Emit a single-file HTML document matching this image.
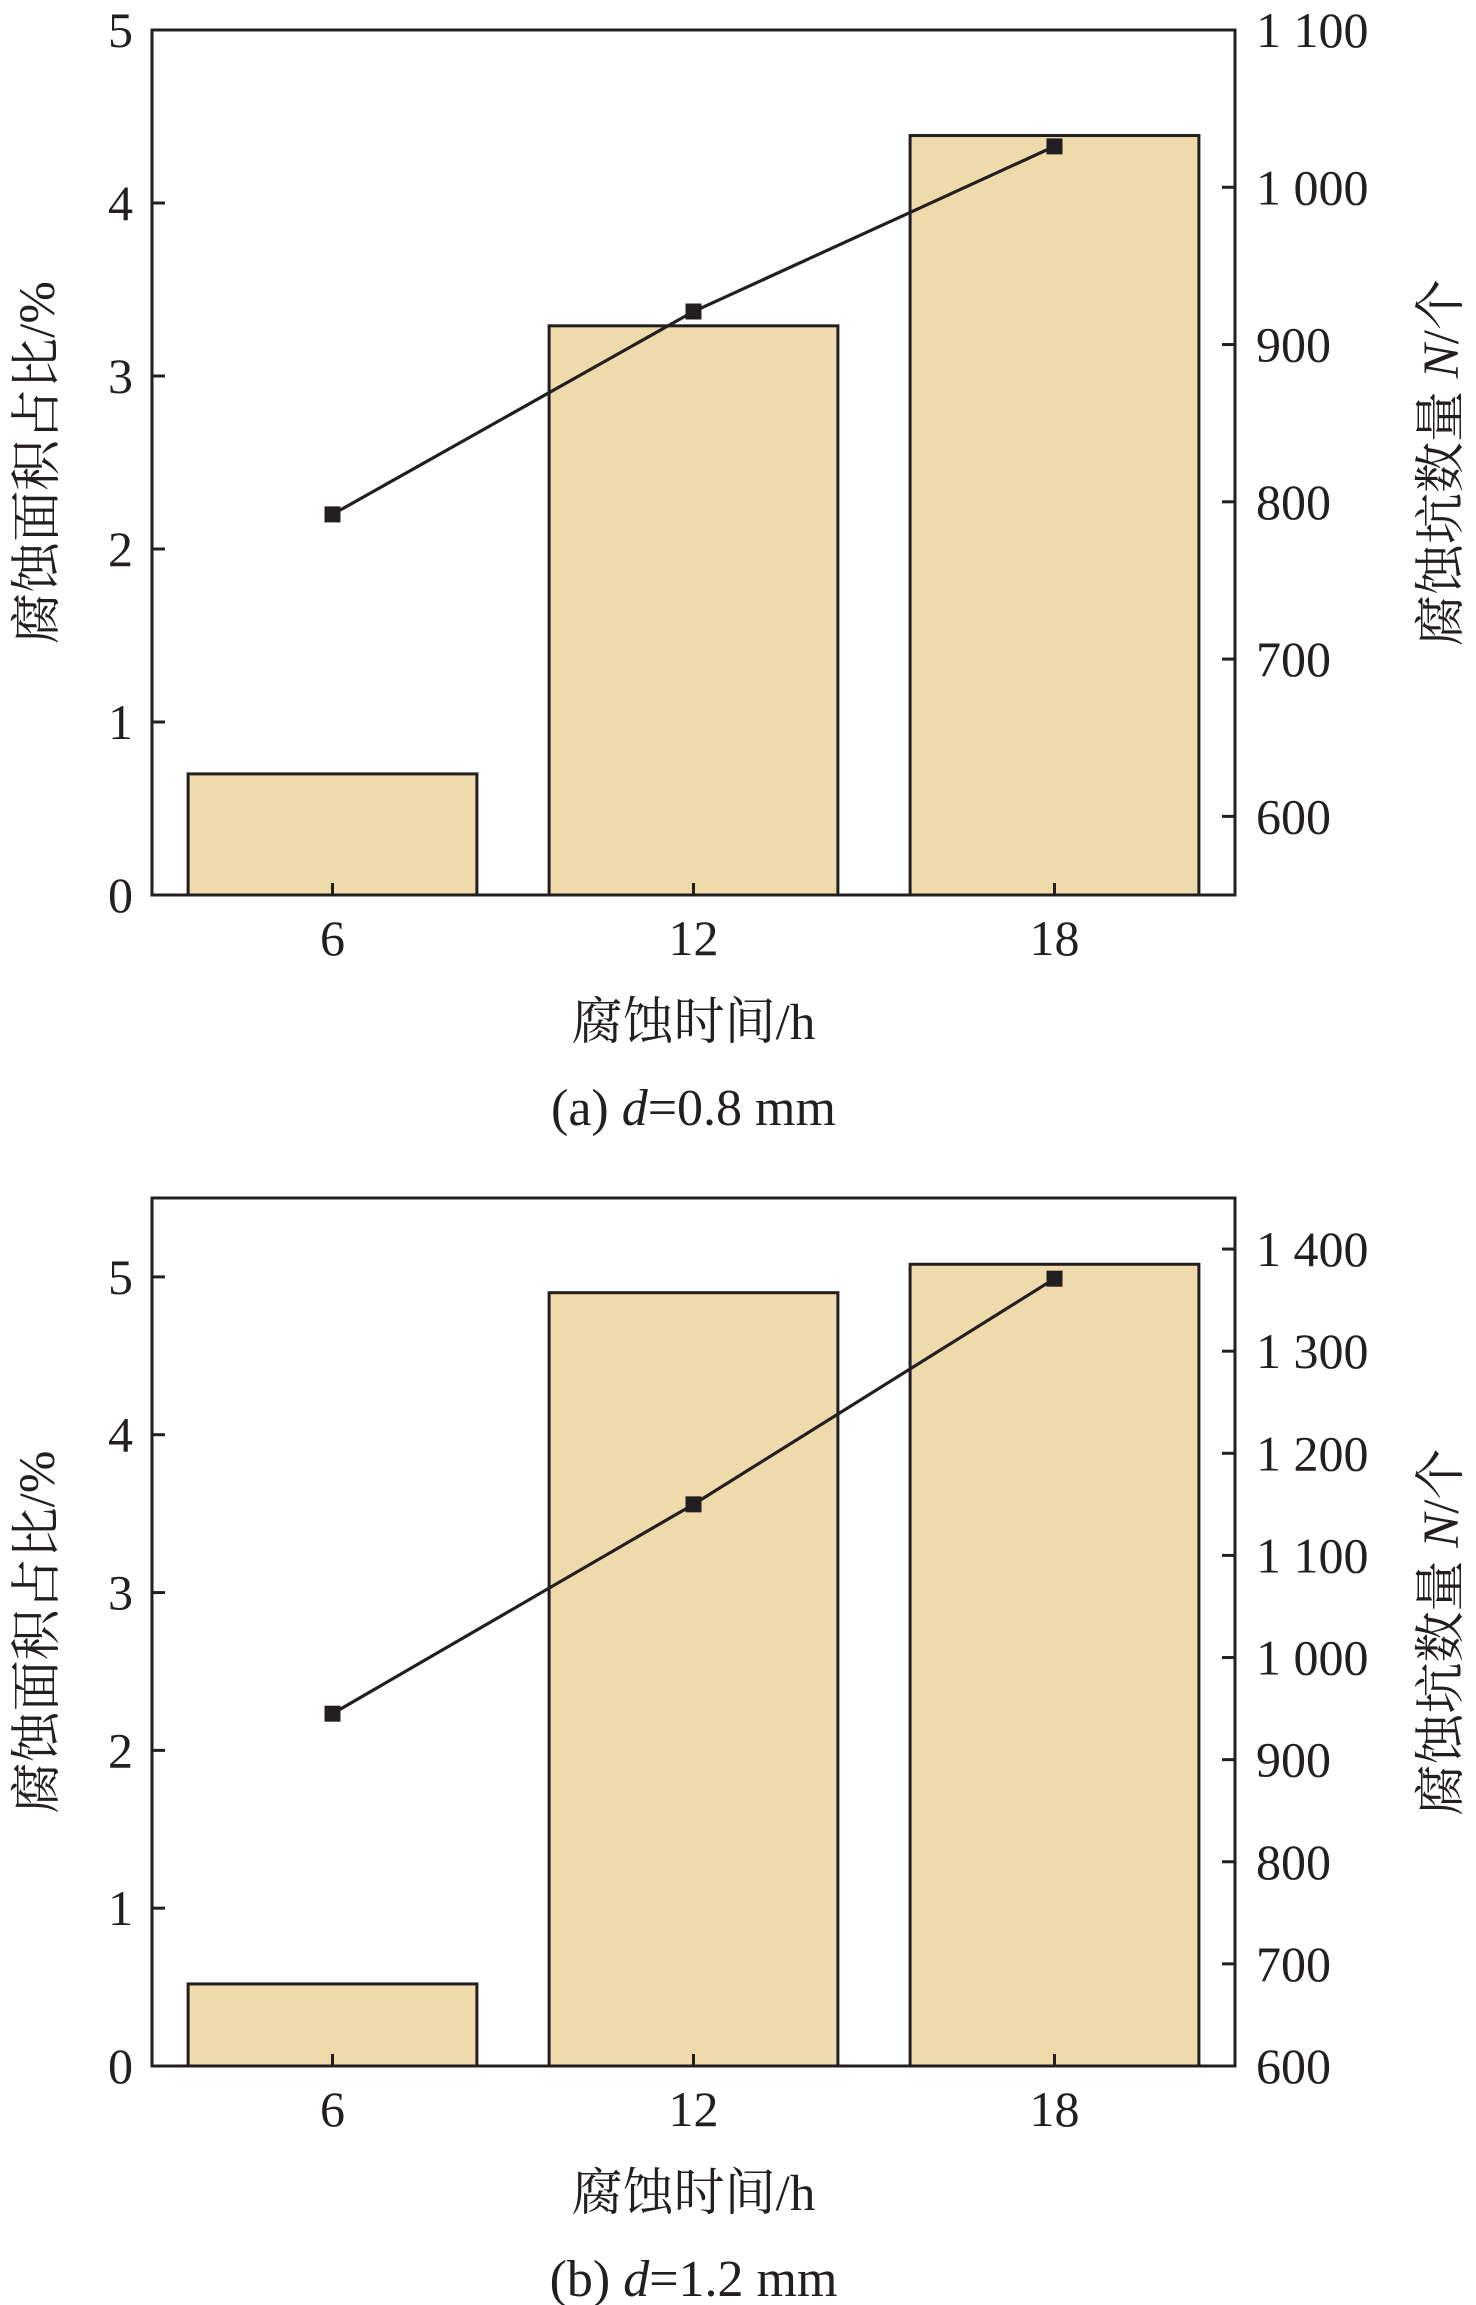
<!DOCTYPE html>
<html><head><meta charset="utf-8"><style>
body{margin:0;background:#fff}
svg{display:block}
text{font-family:"Liberation Serif","Noto Serif CJK SC",serif;fill:#231f20}
</style></head><body>
<svg id="fig" width="1476" height="2305" viewBox="0 0 1476 2305" xmlns="http://www.w3.org/2000/svg"></svg>
<script>
const categories = [6, 12, 18];
const areaA = [0.70, 3.29, 4.39];
const countA = [792, 921, 1026];
const leftTicksA = [0, 1, 2, 3, 4, 5];
const rightTicksA = [600, 700, 800, 900, 1000, 1100];
const rightLabelsA = ["600", "700", "800", "900", "1 000", "1 100"];
const areaB = [0.52, 4.90, 5.08];
const countB = [945, 1150, 1371];
const leftTicksB = [0, 1, 2, 3, 4, 5];
const rightTicksB = [600, 700, 800, 900, 1000, 1100, 1200, 1300, 1400];
const rightLabelsB = ["600", "700", "800", "900", "1 000", "1 100", "1 200", "1 300", "1 400"];

const NS = "http://www.w3.org/2000/svg";
const svg = document.getElementById('fig');
function mk(tag, attrs, parent, text){
  const e = document.createElementNS(NS, tag);
  for (const k in attrs) e.setAttribute(k, attrs[k]);
  if (text !== undefined) e.textContent = text;
  (parent || svg).appendChild(e);
  return e;
}

function chart(cfg){
  const g = mk('g', {});
  
  
  const L = 152, R = 1235, T = cfg.top, B = cfg.bottom;
  const x = v => L + (v - 3) / 18 * (R - L);
  const yl = v => B - (v - cfg.lmin) / (cfg.lmax - cfg.lmin) * (B - T);
  const yr = v => B - (v - cfg.rmin) / (cfg.rmax - cfg.rmin) * (B - T);
  const bw = 4.8 / 18 * (R - L);
  cfg.area.forEach((v, i) => {
    const r = mk('rect', {x: x(categories[i]) - bw/2, y: yl(v), width: bw, height: B - yl(v), fill: '#efdaab', stroke: '#231f20', 'stroke-width': 3}, g);
    
    
  });
  const pts = cfg.count.map((v, i) => x(categories[i]) + ',' + yr(v)).join(' ');
  const pl = mk('polyline', {points: pts, fill: 'none', stroke: '#231f20', 'stroke-width': 3.2}, g);
  
  
  cfg.count.forEach((v, i) => {
    const m = mk('rect', {x: x(categories[i]) - 8, y: yr(v) - 8, width: 16, height: 16, fill: '#231f20'}, g);
    
    
  });
  const fr = mk('rect', {x: L, y: T, width: R - L, height: B - T, fill: 'none', stroke: '#231f20', 'stroke-width': 3}, g);
  
  
  cfg.lt.forEach(v => {
    mk('line', {x1: L, x2: L + 13, y1: yl(v), y2: yl(v), stroke: '#231f20', 'stroke-width': 3}, g);
    const t = mk('text', {x: 133, y: yl(v) + 17, 'text-anchor': 'end', 'font-size': 50}, g, String(v));
    
    
  });
  cfg.rt.forEach((v, i) => {
    mk('line', {x1: R - 13, x2: R, y1: yr(v), y2: yr(v), stroke: '#231f20', 'stroke-width': 3}, g);
    const t = mk('text', {x: 1256, y: yr(v) + 17, 'font-size': 50}, g, cfg.rl[i]);
    
    
  });
  categories.forEach(c => {
    mk('line', {x1: x(c), x2: x(c), y1: B, y2: B - 12, stroke: '#231f20', 'stroke-width': 3}, g);
    const t = mk('text', {x: x(c), y: B + 60, 'text-anchor': 'middle', 'font-size': 50}, g, String(c));
    
    
  });
  const cy = (T + B) / 2;
  const ly = mk('text', {x: 0, y: 0, 'text-anchor': 'middle', 'font-size': 51, transform: `translate(54,${cy}) rotate(-90)`}, g, '腐蚀面积占比/%');
  
  
  const ry = mk('text', {x: 0, y: 0, 'text-anchor': 'middle', 'font-size': 51, transform: `translate(1458,${cy}) rotate(-90)`}, g);
  ry.appendChild(document.createTextNode('腐蚀坑数量 '));
  mk('tspan', {'font-style': 'italic'}, ry, 'N');
  ry.appendChild(document.createTextNode('/个'));
  
  
  const xt = mk('text', {x: x(12), y: B + 144, 'text-anchor': 'middle', 'font-size': 51}, g, '腐蚀时间/h');
  
  
  const cap = mk('text', {x: x(12), y: B + 230, 'text-anchor': 'middle', 'font-size': 52}, g);
  cap.appendChild(document.createTextNode(cfg.cap[0]));
  mk('tspan', {'font-style': 'italic'}, cap, 'd');
  cap.appendChild(document.createTextNode(cfg.cap[1]));
  
  
}

chart({name: 'chart-a', top: 30, bottom: 895, lmin: 0, lmax: 5, rmin: 550, rmax: 1100,
  area: areaA, count: countA, lt: leftTicksA, rt: rightTicksA, rl: rightLabelsA, cap: ['(a) ', '=0.8 mm']});
chart({name: 'chart-b', top: 1198, bottom: 2066, lmin: 0, lmax: 5.5, rmin: 600, rmax: 1450,
  area: areaB, count: countB, lt: leftTicksB, rt: rightTicksB, rl: rightLabelsB, cap: ['(b) ', '=1.2 mm']});
</script>
</body></html>
